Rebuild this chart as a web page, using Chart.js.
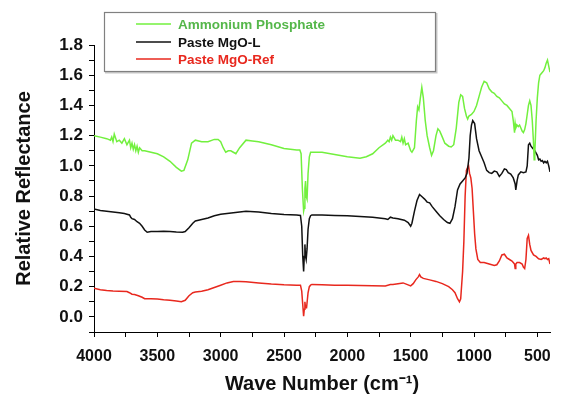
<!DOCTYPE html>
<html>
<head>
<meta charset="utf-8">
<script src="https://cdn.jsdelivr.net/npm/chart.js@4.4.1/dist/chart.umd.min.js"></script>
<style>
  html, body { margin: 0; padding: 0; background: #fff; }
  #wrap { width: 562px; height: 396px; position: relative; }
</style>
</head>
<body>
<div id="wrap"><canvas id="ftirChart"></canvas></div>
<script>
// Ammonium Phosphate
const apWave = [4000,3950,3900,3870,3860,3850,3840,3820,3800,3780,3760,3740,3720,3710,3700,3690,3680,3670,3660,3650,3640,3620,3600,3550,3500,3450,3400,3350,3310,3290,3260,3230,3200,3150,3100,3050,3020,3000,2980,2960,2940,2920,2900,2880,2850,2800,2750,2700,2600,2500,2400,2375,2365,2355,2345,2340,2335,2330,2325,2318,2310,2300,2290,2280,2200,2100,2000,1950,1900,1850,1800,1750,1700,1680,1670,1660,1650,1640,1620,1600,1580,1570,1560,1550,1540,1520,1500,1490,1470,1455,1445,1435,1425,1412,1400,1385,1370,1350,1335,1320,1300,1285,1270,1250,1230,1200,1180,1160,1140,1120,1105,1090,1075,1060,1050,1040,1020,1000,980,960,940,920,900,880,860,840,820,800,780,760,740,720,700,690,680,675,670,660,650,640,630,620,610,600,590,580,570,560,550,540,530,525,520,510,500,490,480,470,460,450,440,430,420,410,400];
const apRefl = [1.20,1.19,1.18,1.17,1.19,1.16,1.21,1.16,1.17,1.15,1.18,1.14,1.17,1.12,1.15,1.11,1.14,1.10,1.13,1.09,1.12,1.10,1.10,1.09,1.08,1.06,1.03,0.99,0.965,0.97,1.04,1.15,1.17,1.16,1.16,1.175,1.175,1.16,1.12,1.09,1.10,1.10,1.09,1.08,1.12,1.17,1.165,1.16,1.14,1.115,1.105,1.105,1.08,0.85,0.70,0.72,0.85,0.90,0.80,0.78,0.95,1.06,1.09,1.09,1.09,1.075,1.06,1.055,1.05,1.06,1.08,1.12,1.15,1.17,1.16,1.19,1.17,1.20,1.17,1.17,1.16,1.19,1.15,1.18,1.14,1.15,1.10,1.09,1.12,1.30,1.39,1.37,1.44,1.52,1.45,1.30,1.20,1.12,1.07,1.10,1.20,1.245,1.23,1.19,1.15,1.13,1.125,1.14,1.25,1.42,1.47,1.46,1.38,1.33,1.31,1.33,1.34,1.36,1.40,1.46,1.52,1.56,1.55,1.51,1.49,1.48,1.46,1.45,1.43,1.41,1.40,1.38,1.36,1.30,1.22,1.28,1.25,1.27,1.26,1.27,1.25,1.23,1.22,1.24,1.28,1.34,1.40,1.43,1.40,1.30,1.15,1.04,1.08,1.30,1.45,1.55,1.60,1.61,1.62,1.63,1.65,1.68,1.70,1.66,1.62];

// Paste MgO-L
const mglWave = [4000,3950,3900,3850,3800,3760,3740,3720,3710,3700,3680,3660,3640,3620,3600,3580,3550,3500,3450,3400,3350,3300,3280,3250,3220,3200,3150,3100,3050,3000,2950,2900,2850,2800,2700,2600,2500,2400,2370,2360,2352,2345,2340,2335,2330,2325,2318,2310,2300,2290,2280,2200,2100,2000,1900,1800,1700,1680,1660,1640,1600,1550,1520,1500,1490,1470,1450,1430,1410,1390,1370,1350,1330,1300,1270,1240,1210,1190,1170,1150,1130,1110,1090,1070,1055,1040,1030,1020,1010,995,980,960,940,920,900,880,860,840,820,800,780,760,745,730,710,690,675,670,660,650,630,610,590,580,570,560,550,540,520,500,490,480,470,460,450,440,430,420,410,400];
const mglRefl = [0.715,0.705,0.70,0.695,0.69,0.685,0.68,0.675,0.66,0.65,0.645,0.63,0.62,0.60,0.575,0.56,0.565,0.565,0.567,0.565,0.562,0.56,0.565,0.59,0.62,0.635,0.645,0.655,0.67,0.68,0.685,0.69,0.695,0.70,0.695,0.685,0.678,0.675,0.672,0.60,0.40,0.30,0.40,0.48,0.40,0.38,0.45,0.58,0.65,0.67,0.675,0.675,0.672,0.67,0.665,0.66,0.65,0.645,0.66,0.655,0.65,0.64,0.625,0.60,0.62,0.70,0.77,0.81,0.795,0.78,0.76,0.755,0.73,0.70,0.67,0.645,0.625,0.62,0.65,0.73,0.84,0.88,0.90,0.92,0.95,1.05,1.20,1.27,1.30,1.28,1.18,1.10,1.06,1.02,0.97,0.955,0.95,0.965,0.96,0.93,0.95,0.98,0.975,0.955,0.945,0.92,0.88,0.84,0.90,0.94,0.96,0.955,0.96,1.00,1.14,1.15,1.13,1.12,1.10,1.07,1.04,1.045,1.03,1.035,1.02,1.03,1.02,1.03,1.00,0.96];

// Paste MgO-Ref
const refWave = [4000,3950,3900,3850,3800,3740,3720,3700,3680,3650,3620,3600,3550,3500,3450,3400,3350,3310,3280,3250,3220,3200,3150,3100,3050,3000,2950,2900,2850,2800,2700,2600,2500,2400,2370,2360,2352,2345,2340,2335,2330,2322,2310,2300,2290,2280,2200,2100,2000,1900,1800,1700,1660,1640,1600,1560,1530,1500,1480,1460,1440,1430,1420,1400,1350,1300,1250,1200,1170,1150,1130,1115,1105,1090,1080,1070,1060,1050,1043,1035,1025,1015,1005,995,985,970,950,920,880,840,820,800,780,760,740,720,700,690,680,675,670,660,640,620,610,600,590,580,570,560,550,530,510,490,470,450,440,430,420,410,400];
const refRefl = [0.19,0.18,0.175,0.172,0.17,0.168,0.16,0.15,0.148,0.14,0.13,0.12,0.12,0.118,0.113,0.11,0.105,0.10,0.11,0.14,0.16,0.165,0.17,0.18,0.195,0.21,0.225,0.235,0.235,0.232,0.225,0.218,0.213,0.21,0.21,0.17,0.08,0.005,0.05,0.10,0.06,0.06,0.16,0.20,0.21,0.215,0.212,0.21,0.21,0.208,0.206,0.205,0.215,0.215,0.22,0.225,0.215,0.205,0.22,0.245,0.265,0.28,0.265,0.255,0.245,0.235,0.22,0.20,0.18,0.16,0.12,0.10,0.12,0.30,0.50,0.80,0.97,0.99,1.00,0.95,0.92,0.85,0.70,0.55,0.45,0.38,0.36,0.36,0.35,0.34,0.345,0.37,0.41,0.415,0.39,0.38,0.37,0.36,0.35,0.32,0.35,0.36,0.36,0.35,0.33,0.32,0.38,0.52,0.54,0.48,0.44,0.41,0.40,0.385,0.38,0.39,0.385,0.39,0.38,0.385,0.35];

const seriesNames = ['Ammonium Phosphate', 'Paste MgO-L', 'Paste MgO-Ref'];
const xTicks = [4000,3750,3500,3250,3000,2750,2500,2250,2000,1750,1500,1250,1000,750,500];
const yTicks = [-0.1,0.0,0.1,0.2,0.3,0.4,0.5,0.6,0.7,0.8,0.9,1.0,1.1,1.2,1.3,1.4,1.5,1.6,1.7,1.8];

const FONT = '"Liberation Sans", Arial, sans-serif';
const lineColors = ['#72f03e', '#111111', '#e8281e'];
const textColors = ['#55b74a', '#111111', '#e8281e'];

const toPoints = (xs, ys) => xs.map((x, i) => ({ x, y: ys[i] }));

// boxed legend drawn over the top of the plot
const boxLegend = {
  id: 'boxLegend',
  afterDraw(chart) {
    const ctx = chart.ctx;
    ctx.save();
    ctx.fillStyle = '#fff';
    ctx.fillRect(104, 12, 331, 59);
    ctx.strokeStyle = '#c8c8c8';
    ctx.lineWidth = 2;
    ctx.beginPath();
    ctx.moveTo(436.5, 13); ctx.lineTo(436.5, 72.5); ctx.lineTo(105, 72.5);
    ctx.stroke();
    ctx.strokeStyle = '#808080';
    ctx.lineWidth = 1.2;
    ctx.strokeRect(104.5, 12.5, 331, 59);
    const rows = [24, 42, 59];
    chart.data.datasets.forEach((ds, i) => {
      ctx.strokeStyle = ds.borderColor;
      ctx.lineWidth = 1.5;
      ctx.beginPath();
      ctx.moveTo(136, rows[i]); ctx.lineTo(171, rows[i]);
      ctx.stroke();
      ctx.fillStyle = textColors[i];
      ctx.font = 'bold 13.5px ' + FONT;
      ctx.textBaseline = 'middle';
      ctx.fillText(ds.label, 178, rows[i] + 1);
    });
    ctx.restore();
  }
};

new Chart(document.getElementById('ftirChart'), {
  type: 'line',
  data: {
    datasets: [
      { label: seriesNames[0], data: toPoints(apWave, apRefl), borderColor: lineColors[0] },
      { label: seriesNames[1], data: toPoints(mglWave, mglRefl), borderColor: lineColors[1] },
      { label: seriesNames[2], data: toPoints(refWave, refRefl), borderColor: lineColors[2] }
    ]
  },
  options: {
    responsive: true,
    maintainAspectRatio: false,
    animation: false,
    layout: { padding: { top: 45, right: 12, left: 0, bottom: 0 } },
    elements: {
      point: { radius: 0 },
      line: { borderWidth: 1.5, tension: 0, fill: false }
    },
    plugins: {
      legend: { display: false },
      tooltip: { enabled: false }
    },
    scales: {
      x: {
        type: 'linear',
        reverse: true,
        min: 400,
        max: 4000,
        afterBuildTicks: (axis) => { axis.ticks = xTicks.map(v => ({ value: v })); },
        afterFit: (axis) => { axis.height = 64; },
        ticks: {
          autoSkip: false,
          maxRotation: 0,
          padding: 10,
          color: '#111',
          font: { family: FONT, size: 16, weight: 'bold' },
          callback: (v) => (v % 500 === 0 ? String(v) : '')
        },
        grid: { drawOnChartArea: false, tickLength: 5, color: '#000', tickWidth: 1 },
        border: { color: '#000', width: 1 },
        title: {
          display: true,
          text: 'Wave Number (cm\u207B\u00B9)',
          color: '#111',
          font: { family: FONT, size: 20, weight: 'bold' },
          padding: { top: 4, bottom: 0 }
        }
      },
      y: {
        min: -0.1,
        max: 1.8,
        afterBuildTicks: (axis) => { axis.ticks = yTicks.map(v => ({ value: v })); },
        afterFit: (axis) => { axis.width = 94; },
        ticks: {
          autoSkip: false,
          padding: 6,
          color: '#111',
          font: { family: FONT, size: 17, weight: 'bold' },
          callback: (v) => {
            const r = Math.round(v * 10);
            return (r >= 0 && r % 2 === 0) ? (r / 10).toFixed(1) : '';
          }
        },
        grid: { drawOnChartArea: false, tickLength: 5, color: '#000', tickWidth: 1 },
        border: { color: '#000', width: 1 },
        title: {
          display: true,
          text: 'Relative Reflectance',
          color: '#111',
          font: { family: FONT, size: 20, weight: 'bold' },
          padding: { top: 12, bottom: 0 }
        }
      }
    }
  },
  plugins: [boxLegend]
});
</script>
</body>
</html>
